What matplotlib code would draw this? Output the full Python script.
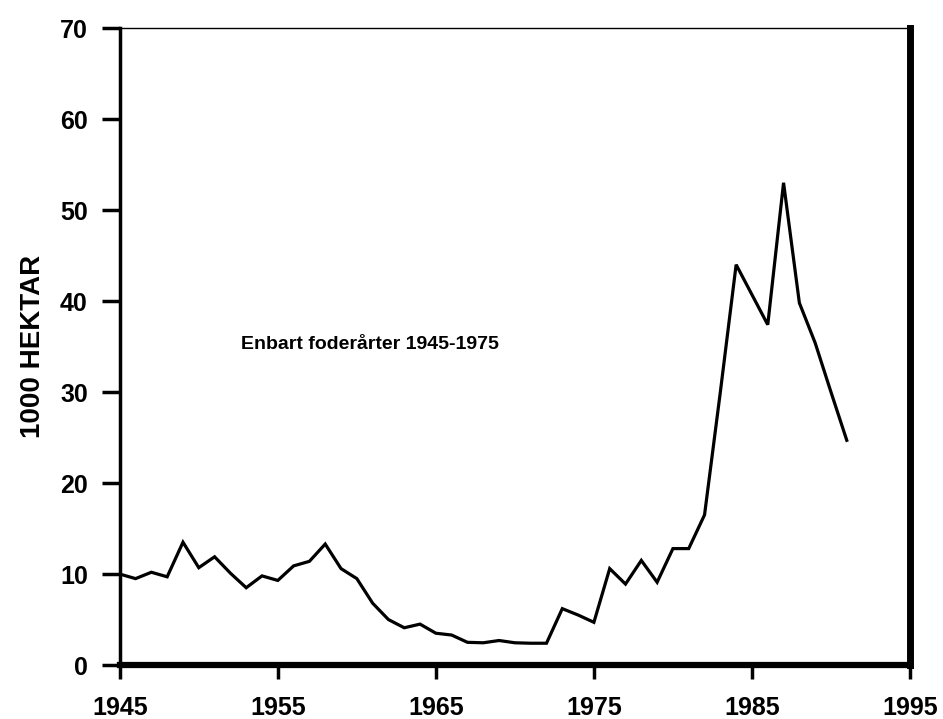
import matplotlib
matplotlib.use("Agg")
import matplotlib.pyplot as plt
from matplotlib import font_manager

years = list(range(1945, 1992))
hectares = [10.0, 9.5, 10.2, 9.7, 13.5, 10.7, 11.9, 10.1, 8.5, 9.8,
            9.3, 10.9, 11.4, 13.3, 10.6, 9.5, 6.8, 5.0, 4.1, 4.5,
            3.5, 3.3, 2.5, 2.45, 2.7, 2.45, 2.4, 2.4, 6.2, 5.5,
            4.7, 10.6, 8.9, 11.5, 9.1, 12.8, 12.8, 16.5, 30.0, 44.0,
            40.7, 37.4, 53.0, 39.8, 35.4, 30.0, 24.7]
x_ticks = [1945, 1955, 1965, 1975, 1985, 1995]
y_ticks = [0, 10, 20, 30, 40, 50, 60, 70]
annotation = "Enbart foderårter 1945-1975"
ylabel = "1000 HEKTAR"

names = {f.name for f in font_manager.fontManager.ttflist}
fam = ["Liberation Sans Narrow", "Liberation Sans", "DejaVu Sans"]
fam = [f for f in fam if f in names] or ["DejaVu Sans"]

fig = plt.figure(figsize=(9.43, 7.19), dpi=100)
ax = fig.add_axes([0.127, 0.075, 0.838, 0.886])
ax.plot(years, hectares, color="black", linewidth=2.3, solid_joinstyle="miter")
ax.set_xlim(1945, 1995)
ax.set_ylim(0, 70)
ax.set_xticks(x_ticks)
ax.set_yticks(y_ticks)
ax.set_xticklabels([str(t) for t in x_ticks], family=fam, fontweight="bold", fontsize=18)
ax.set_yticklabels([str(t) for t in y_ticks], family=fam, fontweight="bold", fontsize=18)
ax.tick_params(axis="x", direction="out", length=10, width=2.5, pad=12, color="black")
ax.tick_params(axis="y", direction="out", length=13, width=2.5, pad=10, color="black")
ax.spines["left"].set_linewidth(2.5)
ax.spines["bottom"].set_linewidth(4.5)
ax.spines["right"].set_linewidth(5)
ax.spines["top"].set_linewidth(1)
ax.set_ylabel(ylabel, family=fam, fontweight="bold", fontsize=20, labelpad=10)
ax.text(1952.7, 35.2, annotation, family=fam, fontweight="bold", fontsize=14, va="center", ha="left")
fig.savefig("out.png", dpi=100)
